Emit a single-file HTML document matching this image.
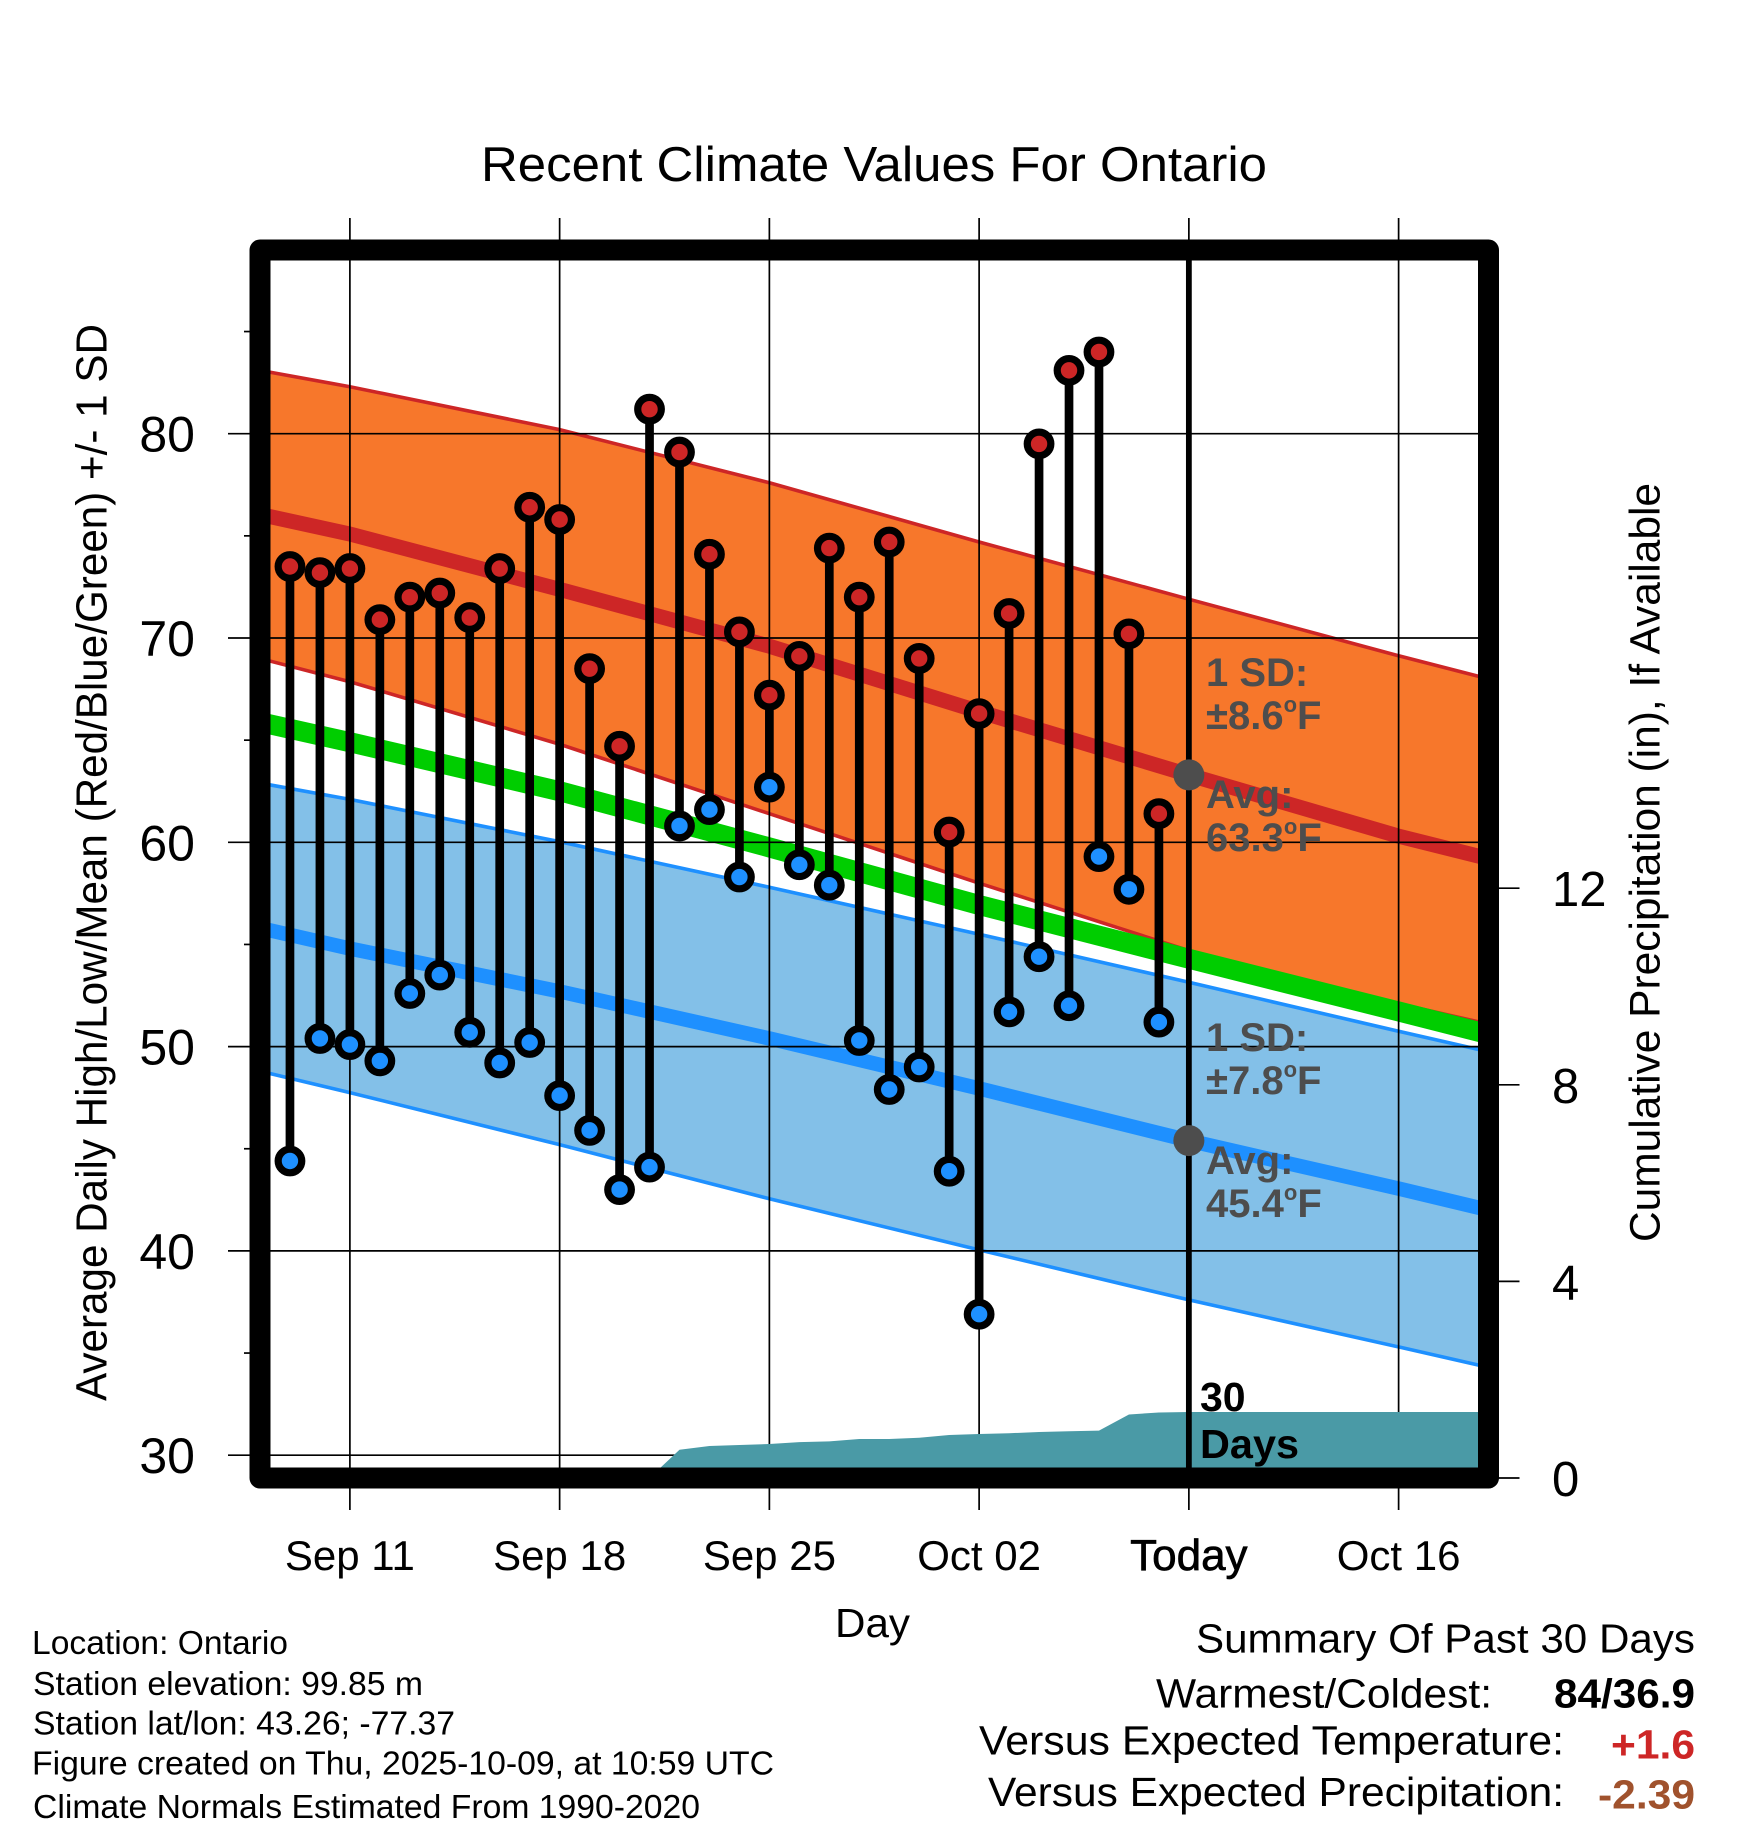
<!DOCTYPE html>
<html lang="en">
<head>
<meta charset="utf-8">
<title>Recent Climate Values For Ontario</title>
<style>
html,body{margin:0;padding:0;background:#fff;}
svg{display:block;}
text{font-family:"Liberation Sans",Arial,Helvetica,sans-serif;fill:#000;}
.b{font-weight:bold;}
.g{font-weight:bold;fill:#4d4d4d;font-size:40px;}
</style>
</head>
<body>
<svg id="chart" xmlns="http://www.w3.org/2000/svg" width="1748" height="1828" viewBox="0 0 1748 1828">
  <rect x="0" y="0" width="1748" height="1828" fill="#ffffff"/>
  <g id="layer-bands"></g>
  <g id="layer-grid"></g>
  <g id="layer-marks"></g>
  <g id="layer-precip"></g>
  <g id="layer-today"></g>
  <rect x="260" y="250" width="1228.5" height="1228" fill="none" stroke="#000" stroke-width="21" stroke-linejoin="round"/>
  <g id="layer-ticklabels"></g>

  <text x="481" y="181" font-size="49" textLength="786" lengthAdjust="spacingAndGlyphs">Recent Climate Values For Ontario</text>
  <text transform="translate(106.5,1401) rotate(-90)" font-size="44" textLength="1077" lengthAdjust="spacingAndGlyphs">Average Daily High/Low/Mean (Red/Blue/Green) +/- 1 SD</text>
  <text transform="translate(1659.5,1242) rotate(-90)" font-size="43" textLength="759" lengthAdjust="spacingAndGlyphs">Cumulative Precipitation (in), If Available</text>
  <text x="835" y="1637" font-size="41" textLength="75" lengthAdjust="spacingAndGlyphs">Day</text>

  <text class="g" x="1206" y="686">1 SD:</text>
  <text class="g" x="1206" y="729">±8.6<tspan dy="-17" font-size="22">o</tspan><tspan dy="17">F</tspan></text>
  <text class="g" x="1206" y="808">Avg:</text>
  <text class="g" x="1206" y="851">63.3<tspan dy="-17" font-size="22">o</tspan><tspan dy="17">F</tspan></text>
  <text class="g" x="1206" y="1051">1 SD:</text>
  <text class="g" x="1206" y="1094">±7.8<tspan dy="-17" font-size="22">o</tspan><tspan dy="17">F</tspan></text>
  <text class="g" x="1206" y="1174">Avg:</text>
  <text class="g" x="1206" y="1217">45.4<tspan dy="-17" font-size="22">o</tspan><tspan dy="17">F</tspan></text>

  <text class="b" x="1200" y="1411" font-size="41">30</text>
  <text class="b" x="1200" y="1458" font-size="41" textLength="99" lengthAdjust="spacingAndGlyphs">Days</text>

  <text x="32" y="1654" font-size="33" textLength="256" lengthAdjust="spacingAndGlyphs">Location: Ontario</text>
  <text x="33" y="1695" font-size="33" textLength="390" lengthAdjust="spacingAndGlyphs">Station elevation: 99.85 m</text>
  <text x="33" y="1734.5" font-size="33" textLength="422" lengthAdjust="spacingAndGlyphs">Station lat/lon: 43.26; -77.37</text>
  <text x="32" y="1774.5" font-size="33" textLength="742" lengthAdjust="spacingAndGlyphs">Figure created on Thu, 2025-10-09, at 10:59 UTC</text>
  <text x="33" y="1818" font-size="33" textLength="667" lengthAdjust="spacingAndGlyphs">Climate Normals Estimated From 1990-2020</text>

  <text x="1196" y="1652.5" font-size="41" textLength="499" lengthAdjust="spacingAndGlyphs">Summary Of Past 30 Days</text>
  <text x="1156" y="1707.5" font-size="41" textLength="336" lengthAdjust="spacingAndGlyphs">Warmest/Coldest:</text>
  <text class="b" x="1554" y="1707.5" font-size="41" textLength="141" lengthAdjust="spacingAndGlyphs">84/36.9</text>
  <text x="979" y="1754.5" font-size="41" textLength="585" lengthAdjust="spacingAndGlyphs">Versus Expected Temperature:</text>
  <text class="b" x="1611" y="1758.5" font-size="41" textLength="84" lengthAdjust="spacingAndGlyphs" style="fill:#cd2626">+1.6</text>
  <text x="988" y="1806" font-size="41" textLength="576" lengthAdjust="spacingAndGlyphs">Versus Expected Precipitation:</text>
  <text class="b" x="1598" y="1808.5" font-size="41" textLength="97" lengthAdjust="spacingAndGlyphs" style="fill:#a0522d">-2.39</text>
</svg>

<script>
// ---- Data ----
// Days since Sep 8 for the climate-normal curves.
const normalDays = [0, 3, 10, 17, 24, 31, 38, 41];
const highUpper = [83.1, 82.3, 80.2, 77.6, 74.7, 71.9, 69.13, 68.0];
const highMean = [76.05, 75.09, 72.38, 69.6, 66.4, 63.3, 60.3, 59.2];
const highLower = [69.0, 67.86, 64.8, 61.4, 58.0, 54.7, 52.1, 51.1];
const meanNormal = [65.88, 64.9, 62.5, 59.75, 56.93, 54.3, 51.72, 50.6];
const lowUpper = [62.9, 62.1, 60.03, 57.8, 55.5, 53.15, 50.75, 49.75];
const lowMean = [55.8, 54.8, 52.7, 50.4, 47.95, 45.4, 43.05, 42.0];
const lowLower = [48.8, 47.75, 45.2, 42.55, 40.05, 37.6, 35.3, 34.3];

// Sep 9 through Oct 8.
const dailyHighs = [73.5, 73.2, 73.4, 70.9, 72.0, 72.2, 71.0, 73.4, 76.4, 75.8, 68.5, 64.7, 81.2, 79.1, 74.1, 70.3, 67.2, 69.1, 74.4, 72.0, 74.7, 69.0, 60.5, 66.3, 71.2, 79.5, 83.1, 84.0, 70.2, 61.4];
const dailyLows = [44.4, 50.4, 50.1, 49.3, 52.6, 53.5, 50.7, 49.2, 50.2, 47.6, 45.9, 43.0, 44.1, 60.8, 61.6, 58.3, 62.7, 58.9, 57.9, 50.3, 47.9, 49.0, 43.9, 36.9, 51.7, 54.4, 52.0, 59.3, 57.7, 51.2];

// Cumulative precipitation (in), Sep 9 through today.
const cumulativePrecip = [0, 0, 0, 0, 0, 0, 0, 0, 0, 0, 0, 0, 0, 0.574, 0.651, 0.671, 0.692, 0.73, 0.745, 0.793, 0.793, 0.82, 0.875, 0.895, 0.91, 0.936, 0.952, 0.964, 1.292, 1.333, 1.343];

const xTickDays = [3, 10, 17, 24, 31, 38];
const xTickLabels = ['Sep 11', 'Sep 18', 'Sep 25', 'Oct 02', 'Today', 'Oct 16'];
const yMajorTicks = [30, 40, 50, 60, 70, 80];
const yMinorTicks = [35, 45, 55, 65, 75, 85];
const precipTicks = [0, 4, 8, 12];
const todayDay = 31;
const todayHighMean = 63.3;
const todayLowMean = 45.4;

// ---- Axis functions ----
const NS = 'http://www.w3.org/2000/svg';
function xAt(day) { return 260 + day * (1228.5 / 41); }
function yAt(temp) { return 433.7 + (80 - temp) * 20.43; }
function yPrecip(inches) { return 1478 - inches * 49.15; }
function make(tag, attrs, parent) {
  const node = document.createElementNS(NS, tag);
  for (const k in attrs) node.setAttribute(k, attrs[k]);
  parent.appendChild(node);
  return node;
}
function curve(days, vals) {
  return days.map((d, i) => xAt(d).toFixed(2) + ',' + yAt(vals[i]).toFixed(2));
}

const bands = document.getElementById('layer-bands');
const grid = document.getElementById('layer-grid');
const marks = document.getElementById('layer-marks');
const precip = document.getElementById('layer-precip');
const today = document.getElementById('layer-today');
const labels = document.getElementById('layer-ticklabels');
let el;

// ---- Bands ----
el = make('polygon', {points: curve(normalDays, highUpper).concat(curve(normalDays, highLower).reverse()).join(' '), fill: '#f7772b'}, bands);


el = make('polyline', {points: curve(normalDays, highUpper).join(' '), fill: 'none', stroke: '#cd2626', 'stroke-width': 3.6}, bands);


el = make('polyline', {points: curve(normalDays, highLower).join(' '), fill: 'none', stroke: '#cd2626', 'stroke-width': 3.6}, bands);


el = make('polyline', {points: curve(normalDays, highMean).join(' '), fill: 'none', stroke: '#cd2626', 'stroke-width': 15}, bands);


el = make('polygon', {points: curve(normalDays, lowUpper).concat(curve(normalDays, lowLower).reverse()).join(' '), fill: '#83c0e8'}, bands);


el = make('polyline', {points: curve(normalDays, lowUpper).join(' '), fill: 'none', stroke: '#1e90ff', 'stroke-width': 3.6}, bands);


el = make('polyline', {points: curve(normalDays, lowLower).join(' '), fill: 'none', stroke: '#1e90ff', 'stroke-width': 3.6}, bands);


el = make('polyline', {points: curve(normalDays, lowMean).join(' '), fill: 'none', stroke: '#1e90ff', 'stroke-width': 14.5}, bands);


el = make('polyline', {points: curve(normalDays, meanNormal).join(' '), fill: 'none', stroke: '#00cd00', 'stroke-width': 20}, bands);



// ---- Grid, ticks and tick labels ----
xTickDays.forEach((d, i) => {
  el = make('line', {x1: xAt(d), x2: xAt(d), y1: 218, y2: 1510, stroke: '#000', 'stroke-width': 1.7}, grid);
  
  
  el = make('text', {x: xAt(d), y: 1570, 'font-size': d === todayDay ? 44 : 42, 'text-anchor': 'middle'}, labels);
  
  
  if (d === todayDay) { el.setAttribute('style', 'stroke:#000;stroke-width:.7'); }
  el.textContent = xTickLabels[i];
});
yMajorTicks.forEach(v => {
  el = make('line', {x1: 228, x2: 1480, y1: yAt(v), y2: yAt(v), stroke: '#000', 'stroke-width': 1.7}, grid);
  
  
  el = make('text', {x: 195, y: yAt(v) + 18, 'font-size': 50, 'text-anchor': 'end'}, labels);
  
  
  el.textContent = String(v);
});
yMinorTicks.forEach(v => {
  el = make('line', {x1: 244, x2: 252, y1: yAt(v), y2: yAt(v), stroke: '#000', 'stroke-width': 1.7}, grid);
  
  
});
precipTicks.forEach(v => {
  el = make('line', {x1: 1495, x2: 1519.5, y1: yPrecip(v), y2: yPrecip(v), stroke: '#000', 'stroke-width': 1.7}, grid);
  
  
  el = make('text', {x: 1552, y: yPrecip(v) + 18, 'font-size': 49}, labels);
  
  
  el.textContent = String(v);
});

// ---- Daily stems and markers ----
dailyHighs.forEach((hi, i) => {
  const day = i + 1;
  el = make('line', {x1: xAt(day), x2: xAt(day), y1: yAt(hi), y2: yAt(dailyLows[i]), stroke: '#000', 'stroke-width': 8.7}, marks);
  
  
});
dailyHighs.forEach((hi, i) => {
  const day = i + 1;
  el = make('circle', {cx: xAt(day), cy: yAt(hi), r: 11.8, fill: '#cd2626', stroke: '#000', 'stroke-width': 7.2}, marks);
  
  
  el = make('circle', {cx: xAt(day), cy: yAt(dailyLows[i]), r: 11.8, fill: '#1e90ff', stroke: '#000', 'stroke-width': 7.2}, marks);
  
  
});

// ---- Cumulative precipitation area ----
const precipPts = [xAt(1) + ',' + yPrecip(0)];
cumulativePrecip.forEach((v, i) => { precipPts.push(xAt(i + 1).toFixed(2) + ',' + yPrecip(v).toFixed(2)); });
precipPts.push(xAt(41) + ',' + yPrecip(cumulativePrecip[cumulativePrecip.length - 1]).toFixed(2));
precipPts.push(xAt(41) + ',' + yPrecip(0));
el = make('polygon', {points: precipPts.join(' '), fill: '#4a9aa6'}, precip);



// ---- Today marker ----
el = make('line', {x1: xAt(todayDay), x2: xAt(todayDay), y1: 250, y2: 1478, stroke: '#000', 'stroke-width': 5.8}, today);


el = make('circle', {cx: xAt(todayDay), cy: yAt(todayHighMean), r: 15.5, fill: '#4d4d4d'}, today);


el = make('circle', {cx: xAt(todayDay), cy: yAt(todayLowMean), r: 15.5, fill: '#4d4d4d'}, today);


</script>
</body>
</html>
